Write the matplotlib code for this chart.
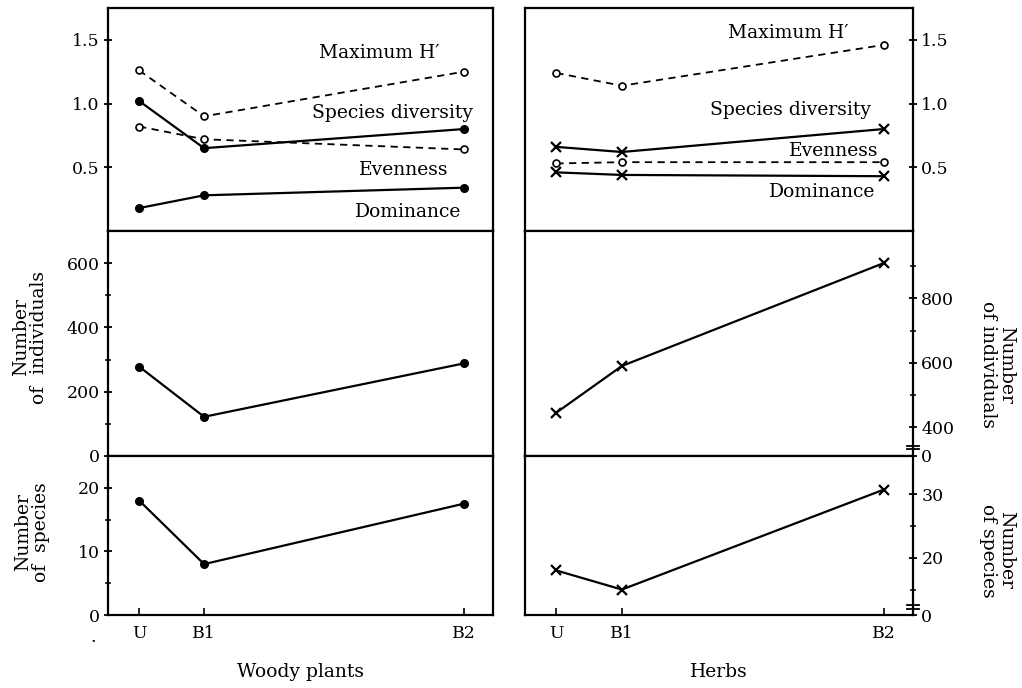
import matplotlib
matplotlib.use("Agg")
import matplotlib.pyplot as plt
from matplotlib.ticker import FixedLocator

plt.rcParams["font.family"] = ["DejaVu Serif", "Liberation Serif"]

# sites along the gradient and their plotting positions
categories = ["U", "B1", "B2"]
x_pos = [0, 1, 5]

# woody plants
woody_max_h = [1.26, 0.90, 1.25]
woody_diversity = [1.02, 0.65, 0.80]
woody_evenness = [0.82, 0.72, 0.64]
woody_dominance = [0.18, 0.28, 0.34]
woody_individuals = [278, 122, 288]
woody_species = [18, 8, 17.5]

# herbs
herb_max_h = [1.24, 1.14, 1.46]
herb_diversity = [0.66, 0.62, 0.80]
herb_evenness = [0.53, 0.54, 0.54]
herb_dominance = [0.46, 0.44, 0.43]
herb_individuals = [445, 590, 910]
herb_species = [18, 15, 30.7]

W, H = 1022, 688
fig = plt.figure(figsize=(W / 100, H / 100), dpi=100)


def px_axes(x0, x1, y0, y1):
    # pixel box (top-left origin) -> figure axes
    return fig.add_axes([x0 / W, 1 - y1 / H, (x1 - x0) / W, (y1 - y0) / H])


rows = [(8, 231), (231, 456), (456, 615)]
left_cols = (108, 493)
right_cols = (525, 913)

axL = [px_axes(*left_cols, *r) for r in rows]
axR = [px_axes(*right_cols, *r) for r in rows]

XLIM = (-0.48, 5.45)
TICK_FS = 12.5
LAB_FS = 13.5

for ax in axL + axR:
    ax.set_xlim(*XLIM)
    for s in ax.spines.values():
        s.set_linewidth(1.6)
    ax.tick_params(axis="y", direction="inout", length=6, width=1.3,
                   labelsize=TICK_FS, pad=3)
    ax.tick_params(axis="y", which="minor", direction="inout", length=5, width=1.1)
    ax.set_xticks([])

for ax in axR:
    ax.yaxis.tick_right()
    ax.yaxis.set_tick_params(which="both", right=True, left=False)

solid = dict(color="black", lw=1.6)
dashed = dict(color="black", lw=1.3, linestyle=(0, (4, 3)))
filled = dict(marker="o", ms=5.5, mfc="black", mec="black")
hollow = dict(marker="o", ms=5, mfc="white", mec="black", mew=1.2)
cross = dict(marker="x", ms=6.5, mec="black", mew=1.6)

# ---- top panels: diversity indices
ax = axL[0]
ax.plot(x_pos, woody_max_h, **dashed, **hollow)
ax.plot(x_pos, woody_evenness, **dashed, **hollow)
ax.plot(x_pos, woody_diversity, **solid, **filled)
ax.plot(x_pos, woody_dominance, **solid, **filled)
ax.set_ylim(0, 1.75)
ax.yaxis.set_major_locator(FixedLocator([0.5, 1.0, 1.5]))
ax.set_yticklabels(["0.5", "1.0", "1.5"])
ax.text(0.704, 0.798, "Maximum H\u2032", transform=ax.transAxes, ha="center", va="center", fontsize=LAB_FS)
ax.text(0.740, 0.529, "Species diversity", transform=ax.transAxes, ha="center", va="center", fontsize=LAB_FS)
ax.text(0.769, 0.274, "Evenness", transform=ax.transAxes, ha="center", va="center", fontsize=LAB_FS)
ax.text(0.779, 0.087, "Dominance", transform=ax.transAxes, ha="center", va="center", fontsize=LAB_FS)

ax = axR[0]
ax.plot(x_pos, herb_max_h, **dashed, **hollow)
ax.plot(x_pos, herb_evenness, **dashed, **hollow)
ax.plot(x_pos, herb_diversity, **solid, **cross)
ax.plot(x_pos, herb_dominance, **solid, **cross)
ax.set_ylim(0, 1.75)
ax.yaxis.set_major_locator(FixedLocator([0.5, 1.0, 1.5]))
ax.set_yticklabels(["0.5", "1.0", "1.5"])
ax.text(0.678, 0.889, "Maximum H\u2032", transform=ax.transAxes, ha="center", va="center", fontsize=LAB_FS)
ax.text(0.685, 0.543, "Species diversity", transform=ax.transAxes, ha="center", va="center", fontsize=LAB_FS)
ax.text(0.796, 0.360, "Evenness", transform=ax.transAxes, ha="center", va="center", fontsize=LAB_FS)
ax.text(0.765, 0.176, "Dominance", transform=ax.transAxes, ha="center", va="center", fontsize=LAB_FS)

# ---- middle panels: number of individuals
ax = axL[1]
ax.plot(x_pos, woody_individuals, **solid, **filled)
ax.set_ylim(0, 700)
ax.yaxis.set_major_locator(FixedLocator([0, 200, 400, 600]))
ax.yaxis.set_minor_locator(FixedLocator([100, 300, 500]))
ax.set_yticklabels(["0", "200", "400", "600"])

ax = axR[1]
ax.plot(x_pos, herb_individuals, **solid, **cross)
ax.set_ylim(310, 1010)
ax.yaxis.set_major_locator(FixedLocator([310, 400, 600, 800]))
ax.yaxis.set_minor_locator(FixedLocator([500, 700, 900]))
ax.set_yticklabels(["0", "400", "600", "800"])
for yb in (333, 340):
    ax.plot([0.985, 1.015], [yb, yb], transform=ax.get_yaxis_transform(),
            color="black", lw=1.3, clip_on=False)

# ---- bottom panels: number of species
ax = axL[2]
ax.plot(x_pos, woody_species, **solid, **filled)
ax.set_ylim(0, 25)
ax.yaxis.set_major_locator(FixedLocator([0, 10, 20]))
ax.yaxis.set_minor_locator(FixedLocator([5, 15]))
ax.set_yticklabels(["0", "10", "20"])
ax.set_xticks(x_pos)
ax.set_xticklabels(categories)
ax.tick_params(axis="x", direction="in", length=5, width=1.2, labelsize=TICK_FS, pad=7)
ax.set_xlabel("Woody plants", fontsize=LAB_FS, labelpad=15)

ax = axR[2]
ax.plot(x_pos, herb_species, **solid, **cross)
ax.set_ylim(11, 36)
ax.yaxis.set_major_locator(FixedLocator([11, 20, 30]))
ax.yaxis.set_minor_locator(FixedLocator([15, 25]))
ax.set_yticklabels(["0", "20", "30"])
ax.set_xticks(x_pos)
ax.set_xticklabels(categories)
ax.tick_params(axis="x", direction="in", length=5, width=1.2, labelsize=TICK_FS, pad=7)
ax.set_xlabel("Herbs", fontsize=LAB_FS, labelpad=15)
for yb in (12.0, 12.6):
    ax.plot([0.985, 1.015], [yb, yb], transform=ax.get_yaxis_transform(),
            color="black", lw=1.3, clip_on=False)

# ---- y axis titles
fig.text(0.029, 0.510, "Number\nof  individuals", rotation=90, ha="center", va="center",
         fontsize=LAB_FS, linespacing=1.0)
fig.text(0.031, 0.226, "Number\nof  species", rotation=90, ha="center", va="center",
         fontsize=LAB_FS, linespacing=1.0)
fig.text(0.976, 0.470, "Number\nof individuals", rotation=-90, ha="center", va="center",
         fontsize=LAB_FS, linespacing=1.0)
fig.text(0.976, 0.200, "Number\nof species", rotation=-90, ha="center", va="center",
         fontsize=LAB_FS, linespacing=1.0)
fig.text(93 / W, 1 - 637 / H, ".", ha="center", va="center", fontsize=TICK_FS)

fig.savefig("out.png", dpi=100)
